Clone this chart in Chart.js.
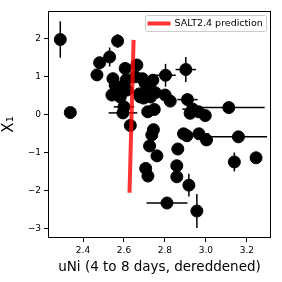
<!DOCTYPE html>
<html>
<head>
<meta charset="utf-8">
<script src="https://cdn.jsdelivr.net/npm/chart.js@4"></script>
<style>
  html, body { margin: 0; padding: 0; background: #fff; }
  #wrap { width: 282px; height: 282px; }
</style>
</head>
<body>
<div id="wrap"><canvas id="c" width="282" height="282"></canvas></div>
<script>
// ── DATA ──────────────────────────────────────────
const uNi  = [2.289, 2.338, 2.468, 2.481, 2.530, 2.569, 2.546, 2.541, 2.566, 2.582,
              2.557, 2.606, 2.611, 2.615, 2.663, 2.655, 2.595, 2.631, 2.703, 2.741,
              2.803, 2.902, 2.712, 2.753, 2.696, 2.730, 2.801, 2.826, 2.910, 2.935,
              2.923, 2.964, 2.997, 3.112, 2.716, 2.748, 2.744, 2.736, 2.725, 2.761,
              2.706, 2.717, 2.863, 2.858, 2.858, 2.891, 2.907, 2.966, 3.003, 3.159,
              2.917, 2.810, 2.956, 3.139, 3.245, 2.690, 2.675, 2.600, 2.576, 2.728,
              2.680];
const x1   = [1.98, 0.06, 1.05, 1.37, 1.52, 1.94, 0.95, 0.52, 0.72, 0.47,
              0.78, 1.22, 0.92, 0.65, 1.31, 1.00, 0.05, -0.28, 0.83, 0.91,
              1.04, 1.19, 0.65, 0.58, 0.44, 0.47, 0.52, 0.36, 0.40, 0.15,
              0.04, 0.08, -0.02, 0.19, 0.08, 0.14, -0.39, -0.53, -0.82, -1.08,
              -1.41, -1.61, -0.90, -1.34, -1.63, -0.50, -0.55, -0.50, -0.66, -0.58,
              -1.85, -2.32, -2.53, -1.24, -1.13, 0.95, 0.55, 0.21, 0.69, 0.83,
              0.47];
const uNiErr = [0, 0, 0, 0, 0, 0, 0, 0, 0, 0,
                0, 0, 0, 0, 0, 0, 0.07, 0, 0, 0,
                0.05, 0.05, 0, 0, 0, 0, 0, 0, 0.05, 0.05,
                0, 0, 0, 0.175, 0, 0, 0, 0, 0, 0,
                0, 0, 0, 0, 0, 0, 0, 0.05, 0, 0.14,
                0, 0.10, 0, 0, 0, 0, 0, 0.05, 0, 0,
                0];
const x1Err  = [0.48, 0, 0, 0, 0.25, 0.18, 0.1, 0, 0, 0,
                0, 0, 0.1, 0, 0, 0, 0, 0, 0, 0.15,
                0.3, 0.33, 0, 0, 0, 0, 0, 0, 0.08, 0,
                0, 0, 0, 0, 0, 0, 0.1, 0, 0, 0,
                0.12, 0, 0, 0, 0, 0, 0, 0, 0, 0,
                0.3, 0, 0.45, 0.25, 0.05, 0, 0, 0, 0, 0,
                0];

const saltX = [2.647, 2.627];
const saltY = [1.97, -2.05];

const xTicks = [2.4, 2.6, 2.8, 3.0, 3.2];
const yTicks = [-3, -2, -1, 0, 1, 2];

const X_MIN = 2.229, X_MAX = 3.318;
const Y_MIN = -3.24, Y_MAX = 2.73;

const FONT = 'DejaVu Sans';

// ── PLUGINS ───────────────────────────────────────
const errorBars = {
  id: 'errorBars',
  beforeDatasetsDraw(chart) {
    const { ctx, scales: { x, y } } = chart;
    ctx.save();
    ctx.strokeStyle = '#000';
    ctx.lineWidth = 1.5;
    uNi.forEach((v, i) => {
      const px = x.getPixelForValue(v), py = y.getPixelForValue(x1[i]);
      if (uNiErr[i]) {
        ctx.beginPath();
        ctx.moveTo(x.getPixelForValue(v - uNiErr[i]), py);
        ctx.lineTo(x.getPixelForValue(v + uNiErr[i]), py);
        ctx.stroke();
      }
      if (x1Err[i]) {
        ctx.beginPath();
        ctx.moveTo(px, y.getPixelForValue(x1[i] - x1Err[i]));
        ctx.lineTo(px, y.getPixelForValue(x1[i] + x1Err[i]));
        ctx.stroke();
      }
    });
    ctx.restore();
  }
};

const frameAndLegend = {
  id: 'frameAndLegend',
  afterDraw(chart) {
    const { ctx, chartArea: a } = chart;
    ctx.save();
    ctx.strokeStyle = '#000';
    ctx.lineWidth = 1;
    ctx.strokeRect(a.left + 0.5, a.top + 0.5, a.right - a.left - 1, a.bottom - a.top - 1);

    // legend box, upper right
    const bx = 145.5, by = 15.5, bw = 121, bh = 16;
    ctx.fillStyle = 'rgba(255,255,255,0.8)';
    ctx.strokeStyle = '#cccccc';
    ctx.beginPath();
    ctx.roundRect(bx, by, bw, bh, 2);
    ctx.fill();
    ctx.stroke();
    ctx.strokeStyle = 'rgba(255,0,0,0.8)';
    ctx.lineWidth = 4;
    ctx.beginPath();
    ctx.moveTo(bx + 2, by + bh / 2);
    ctx.lineTo(bx + 25, by + bh / 2);
    ctx.stroke();
    ctx.fillStyle = '#000';
    ctx.font = `9.5px "${FONT}"`;
    ctx.textBaseline = 'middle';
    ctx.fillText(chart.data.datasets[0].label, bx + 29, by + bh / 2 + 0.5);
    ctx.restore();
  }
};

// ── CHART ─────────────────────────────────────────
new Chart(document.getElementById('c'), {
  type: 'scatter',
  data: {
    datasets: [
      {
        type: 'line',
        label: 'SALT2.4 prediction',
        data: saltX.map((v, i) => ({ x: v, y: saltY[i] })),
        borderColor: 'rgba(255,0,0,0.8)',
        borderWidth: 4,
        pointRadius: 0,
        fill: false,
        order: 0
      },
      {
        label: 'data',
        data: uNi.map((v, i) => ({ x: v, y: x1[i] })),
        backgroundColor: '#000',
        borderColor: '#000',
        pointRadius: 6,
        pointHoverRadius: 6,
        order: 1
      }
    ]
  },
  options: {
    responsive: false,
    animation: false,
    layout: { padding: { left: 0, right: 11, top: 11, bottom: 0 } },
    plugins: {
      legend: { display: false },
      tooltip: { enabled: false }
    },
    scales: {
      x: {
        type: 'linear',
        min: X_MIN, max: X_MAX,
        afterBuildTicks: s => { s.ticks = xTicks.map(v => ({ value: v })); },
        afterFit: s => { s.height = 44; },
        grid: { drawOnChartArea: false, drawTicks: true, tickLength: 4, color: '#000' },
        border: { display: false },
        ticks: {
          color: '#000', padding: 3,
          font: { family: FONT, size: 9 },
          callback: v => v.toFixed(1)
        },
        title: {
          display: true, text: 'uNi (4 to 8 days, dereddened)',
          color: '#000', font: { family: FONT, size: 13.5 }, padding: { top: 0, bottom: 6 }
        }
      },
      y: {
        type: 'linear',
        min: Y_MIN, max: Y_MAX,
        afterBuildTicks: s => { s.ticks = yTicks.map(v => ({ value: v })); },
        afterFit: s => { s.width = 48; },
        grid: { drawOnChartArea: false, drawTicks: true, tickLength: 4, color: '#000' },
        border: { display: false },
        ticks: {
          color: '#000', padding: 3,
          font: { family: FONT, size: 9 },
          callback: v => (v < 0 ? '\u2212' + Math.abs(v) : String(v))
        },
        title: {
          display: true, text: 'X₁',
          color: '#000', font: { family: FONT, size: 15 }, padding: { top: 0, bottom: 2 }
        }
      }
    }
  },
  plugins: [errorBars, frameAndLegend]
});
</script>
</body>
</html>
